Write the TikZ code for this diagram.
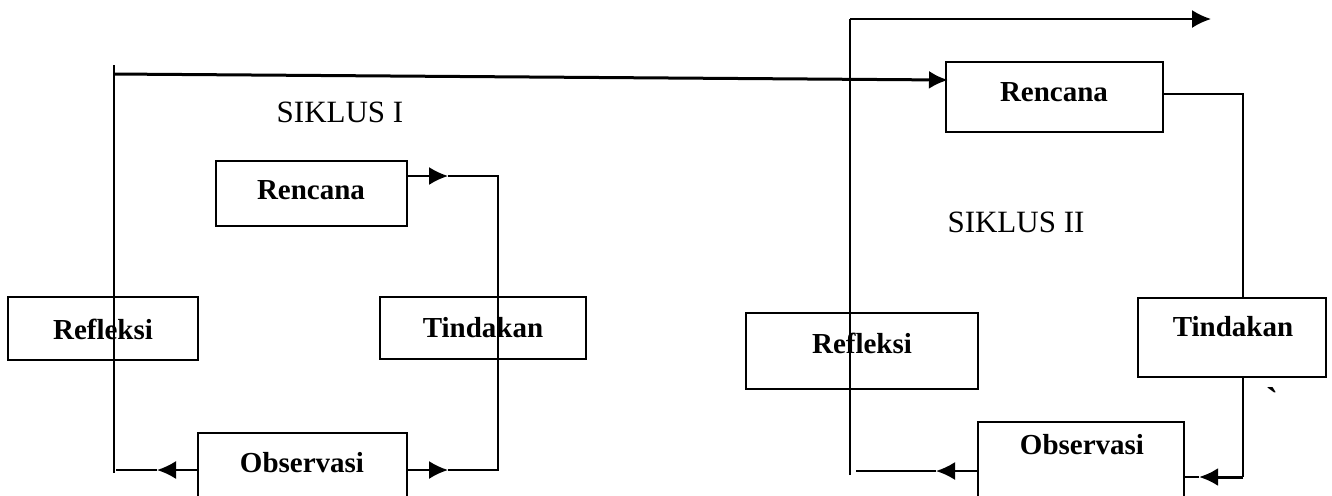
\documentclass[tikz,border=0pt]{standalone}
\usepackage{fontspec}
\setmainfont{Liberation Serif}
\usetikzlibrary{arrows.meta}
\tikzset{
  box/.style={draw, line width=1pt, inner sep=0pt, rectangle},
  lbl/.style={font=\bfseries\fontsize{14.5}{17}\selectfont, inner sep=0pt},
  ttl/.style={font=\fontsize{15.5}{18}\selectfont, inner sep=0pt},
  ln/.style={line width=1pt},
  arr/.style={line width=1pt, -{Latex[length=9.5pt,width=9pt]}}
}
\begin{document}
\begin{tikzpicture}[x=0.5pt,y=-0.5pt]
\useasboundingbox (0,0) rectangle (1332,495);
\clip (0,0) rectangle (1332,495);
% ---------- boxes ----------
\node[box, minimum width=95.5pt, minimum height=32.5pt] (r1) at (311.5,193.5) {};
\node[box, minimum width=95pt, minimum height=31.5pt] (f1) at (103,328.5) {};
\node[box, minimum width=103pt, minimum height=31pt] (t1) at (483,328) {};
\node[box, minimum width=104.5pt, minimum height=43.5pt] (o1) at (302.5,476.5) {};
\node[box, minimum width=108.5pt, minimum height=35pt] (r2) at (1054.5,97) {};
\node[box, minimum width=116pt, minimum height=38pt] (f2) at (862,351) {};
\node[box, minimum width=94pt, minimum height=39.5pt] (t2) at (1232,337.5) {};
\node[box, minimum width=103pt, minimum height=49pt] (o2) at (1081,471) {};
% ---------- titles ----------
\node[ttl] (s1) at (340,112) {SIKLUS I};
\node[ttl] (s2) at (1016,222) {SIKLUS II};
% ---------- coordinates ----------
\coordinate (la) at (114,65);
\coordinate (lb) at (114,473);
\coordinate (lh) at (114,74);
\coordinate (r2in) at (948,80);
\coordinate (a1s) at (407,176);
\coordinate (a1t) at (448,176);
\coordinate (a1c) at (498,176);
\coordinate (b1c) at (498,470);
\coordinate (b1t) at (448,470);
\coordinate (b1s) at (407,470);
\coordinate (c1s) at (198,470);
\coordinate (c1t) at (157,470);
\coordinate (c1e) at (116,470);
\coordinate (ra) at (850,19);
\coordinate (rb) at (850,475);
\coordinate (rt) at (1211,19);
\coordinate (d2s) at (1163,94);
\coordinate (d2c) at (1243,94);
\coordinate (t2top) at (1243,298);
\coordinate (t2bot) at (1243,377);
\coordinate (e2c) at (1243,477);
\coordinate (e2t) at (1199,477);
\coordinate (e2e) at (1184,477);
\coordinate (g2s) at (978,471);
\coordinate (g2t) at (936,471);
\coordinate (g2e) at (856,471);
% ---------- connectors: cycle I ----------
\draw[ln] (la) -- (lb);
\draw[arr, line width=1.5pt] (lh) -- (r2in);
\draw[arr] (a1s) -- (a1t);
\draw[ln] (a1t) -- (a1c) -- (b1c) -- (b1t);
\draw[arr] (b1s) -- (b1t);
\draw[arr] (c1s) -- (c1t);
\draw[ln] (c1t) -- (c1e);
% ---------- connectors: cycle II ----------
\draw[ln] (rb) -- (ra);
\draw[arr] (ra) -- (rt);
\draw[ln] (d2s) -- (d2c) -- (t2top);
\draw[ln] (t2bot) -- (e2c);
\draw[arr, line width=1.5pt] (e2c) -- (e2t);
\draw[ln] (e2t) -- (e2e);
\draw[arr] (g2s) -- (g2t);
\draw[ln] (g2t) -- (g2e);
% ---------- labels ----------
\node[lbl] (r1l) at (311,190) {Rencana};
\node[lbl] (f1l) at (103,329) {Refleksi};
\node[lbl] (t1l) at (483,328) {Tindakan};
\node[lbl] (o1l) at (302,463) {Observasi};
\node[lbl] (r2l) at (1054,92) {Rencana};
\node[lbl] (f2l) at (862,343) {Refleksi};
\node[lbl] (t2l) at (1233,327) {Tindakan};
\node[lbl] (o2l) at (1082,445) {Observasi};
\node[ttl, font=\bfseries\fontsize{18}{20}\selectfont] (tick) at (1272,400) {\textasciigrave};
\end{tikzpicture}
\end{document}
